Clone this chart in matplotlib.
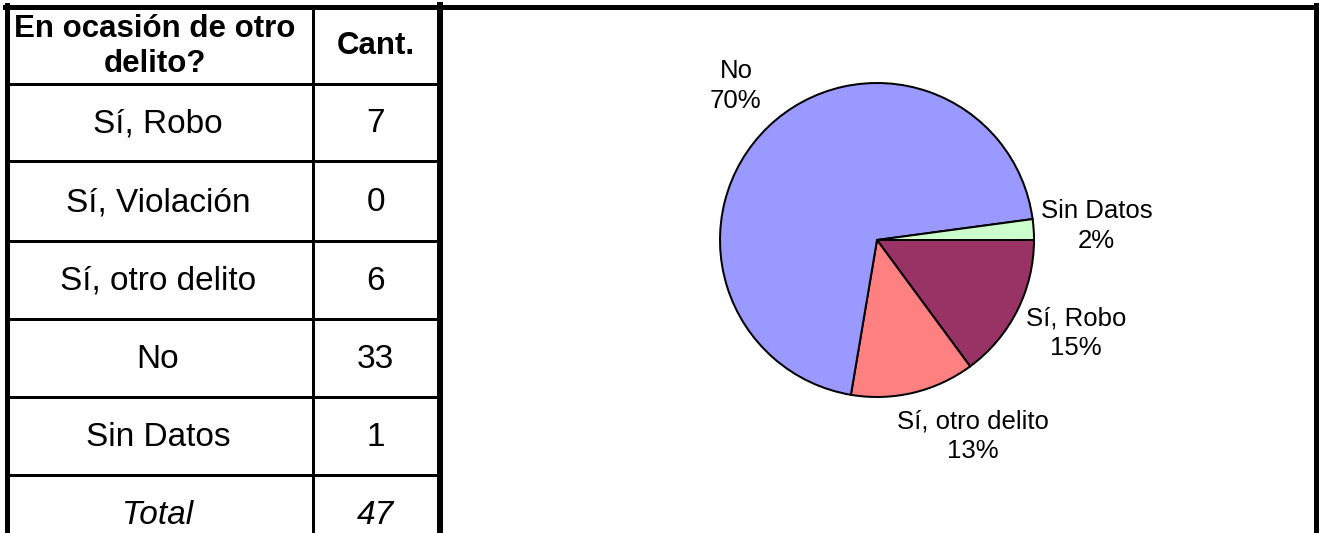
import matplotlib
matplotlib.use("Agg")
import matplotlib.pyplot as plt
import numpy as np

plt.rcParams['font.family'] = ['Liberation Sans', 'DejaVu Sans']

# datos de la tabla
encabezado = ["En ocasión de otro\ndelito?", "Cant."]
categorias = ["Sí, Robo", "Sí, Violación", "Sí, otro delito", "No", "Sin Datos"]
cantidades = [7, 0, 6, 33, 1]
total_txt = "Total"
total = sum(cantidades)

# colores de la torta
colores = {"Sí, Robo": "#993366", "Sí, Violación": "#FFFFCC", "Sí, otro delito": "#FF8080",
           "No": "#9999FF", "Sin Datos": "#CCFFCC"}
# posicion de etiquetas (angulo, distancia en radios)
pos_etiq = {"Sí, Robo": (-25, 1.40), "Sí, otro delito": (-64, 1.39),
            "No": (132.5, 1.33), "Sin Datos": (3.6, 1.40)}

W, H = 1323, 533
px = 72 / 100
fig = plt.figure(figsize=(W / 100, H / 100), dpi=100)

# ---- tabla ----
ax_t = fig.add_axes([0, 0, 1, 1])
ax_t.set_xlim(0, W)
ax_t.set_ylim(H, 0)
ax_t.axis('off')

def linea(x, y, w):
    ax_t.plot(x, y, color='black', lw=w * px, solid_capstyle='projecting')

linea([5, 1316], [6.5, 6.5], 5)
linea([6.5, 6.5], [5, H + 5], 5)
linea([440, 440], [5, H + 5], 6)
linea([1315.5, 1315.5], [5, H + 5], 5)
linea([312.5, 312.5], [8, H + 5], 3)

bordes = [9, 83.5, 160.5, 240.5, 318.5, 396.5, 475, 553]
for yb in bordes[1:-1]:
    linea([9, 437], [yb, yb], 3)

cx1, cx2 = 158, 375.5
yc = [(bordes[i] + bordes[i + 1]) / 2 for i in range(len(bordes) - 1)]
ax_t.text(cx1 - 3, yc[0], encabezado[0], ha='center', va='center', fontsize=22.5,
          fontweight='bold', linespacing=1.22)
ax_t.text(cx2, yc[0], encabezado[1], ha='center', va='center', fontsize=22.5,
          fontweight='bold')
for i, (c, n) in enumerate(zip(categorias, cantidades)):
    ax_t.text(cx1, yc[i + 1] + 2, c, ha='center', va='center', fontsize=24)
    ax_t.text(cx2, yc[i + 1] + 2, str(n), ha='center', va='center', fontsize=24)
ax_t.text(cx1, yc[-1] + 2, total_txt, ha='center', va='center', fontsize=24, style='italic')
ax_t.text(cx2, yc[-1] + 2, str(total), ha='center', va='center', fontsize=24, style='italic')

# ---- torta ----
cx, cy, r = 877, 240, 157
lim = 1.5
s = r * lim
ax = fig.add_axes([(cx - s) / W, (H - cy - s) / H, 2 * s / W, 2 * s / H])

cats = [c for c, n in zip(categorias, cantidades) if n > 0]
vals = [n for n in cantidades if n > 0]
ax.pie(vals, colors=[colores[c] for c in cats], startangle=0, counterclock=False,
       radius=1, wedgeprops=dict(edgecolor='black', linewidth=2 * px))
ax.set_xlim(-lim, lim)
ax.set_ylim(-lim, lim)
ax.axis('off')

for c, v in zip(cats, vals):
    ang, d = pos_etiq[c]
    a = np.deg2rad(ang)
    ax.text(d * np.cos(a), d * np.sin(a), f"{c}\n{round(v / total * 100)}%",
            ha='center', va='center', fontsize=18.5, linespacing=1.3)

fig.savefig("out.png", dpi=100)
